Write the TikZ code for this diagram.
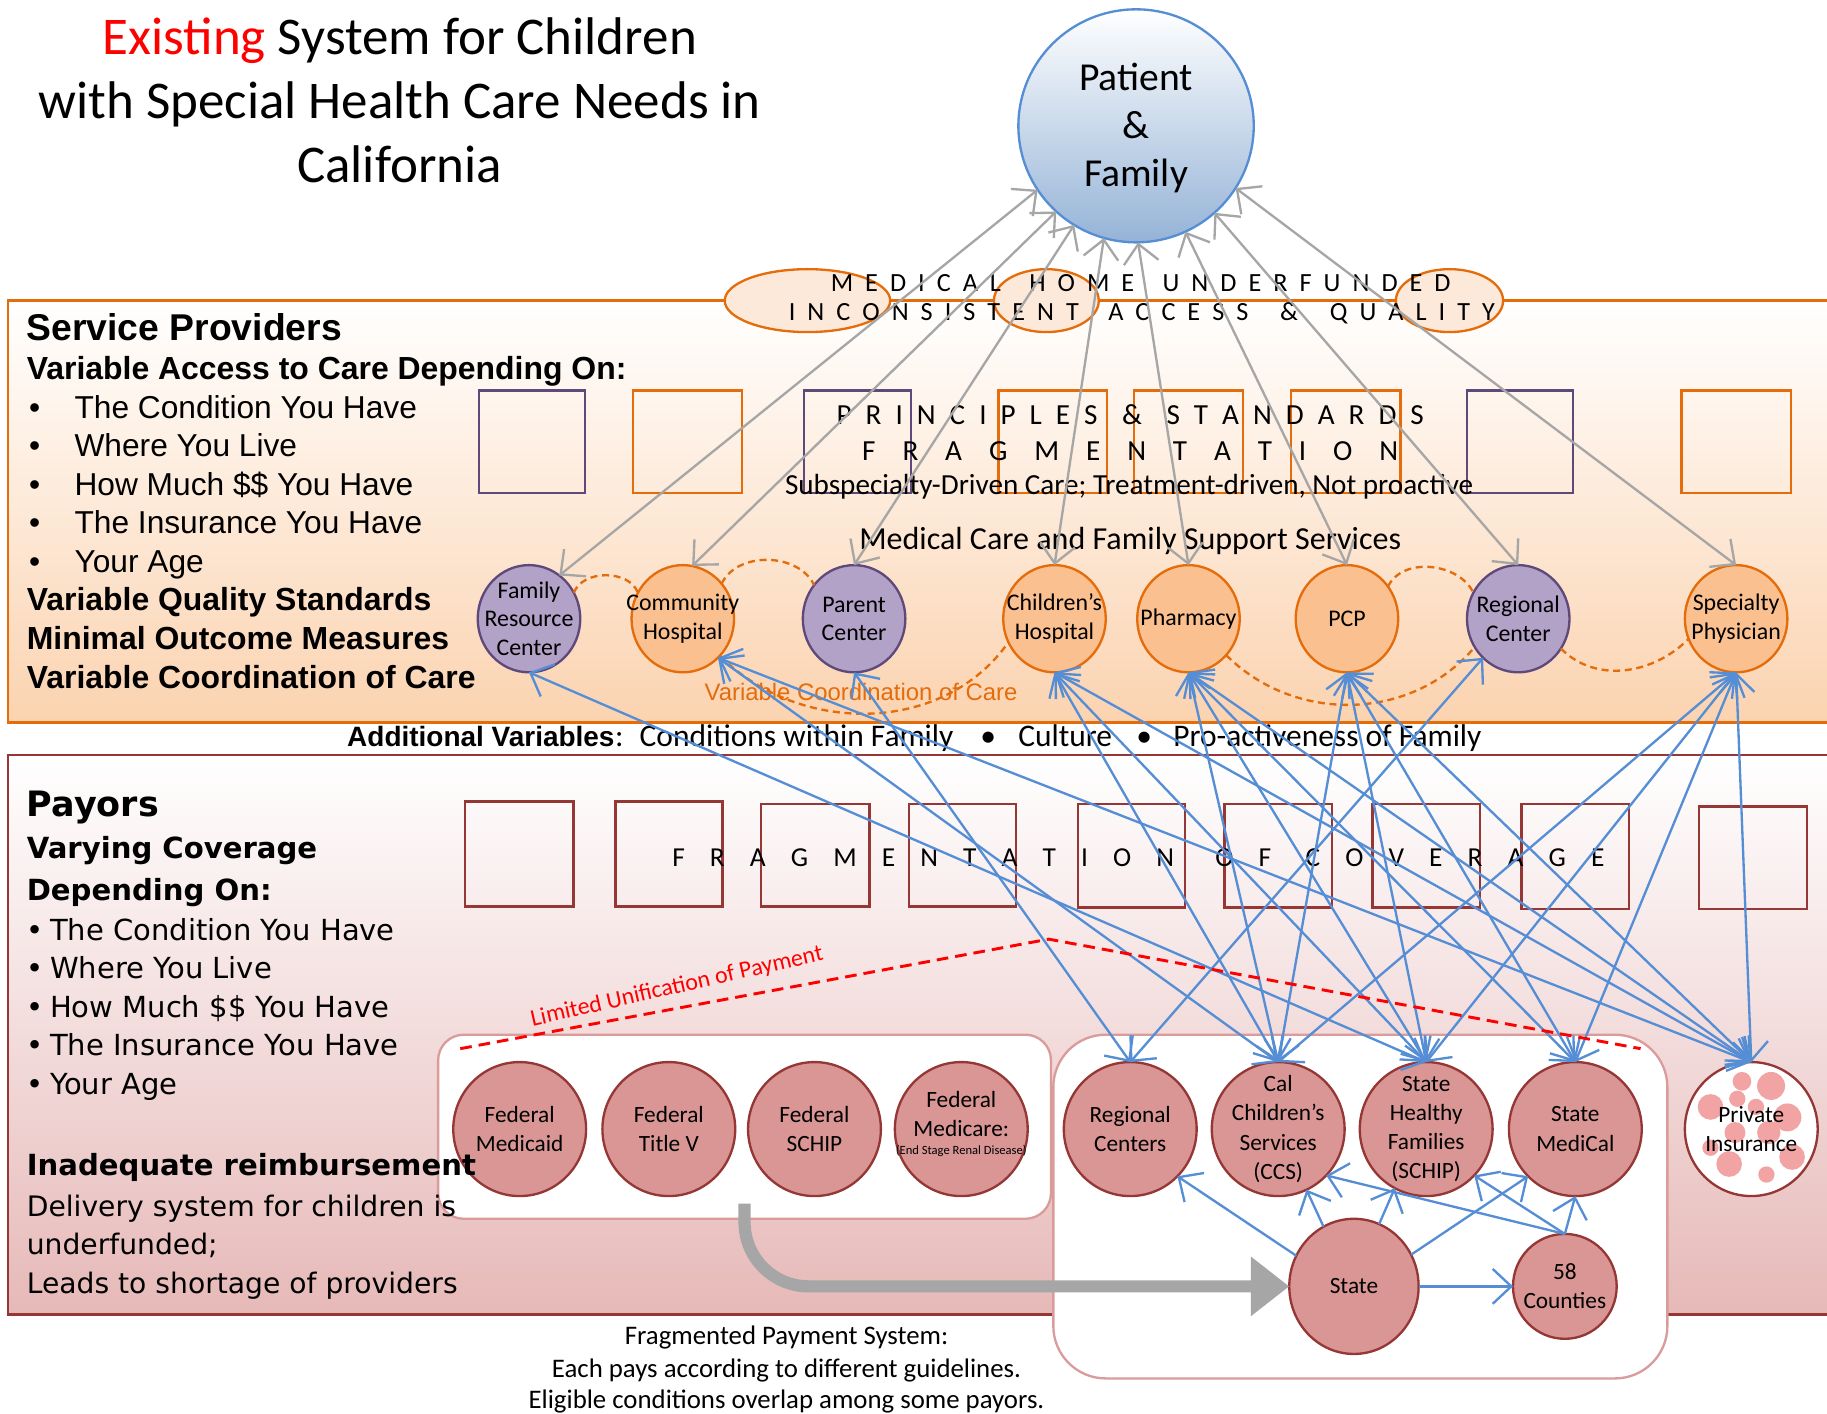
\documentclass[tikz,border=0pt]{standalone}
\usepackage{fontspec}
\setmainfont{Carlito}
\newfontfamily\arialf{Liberation Sans}
\newfontfamily\verdf{DejaVu Sans}
\usetikzlibrary{shapes.geometric,arrows.meta}

\definecolor{orgline}{HTML}{E46C0A}
\definecolor{orgfill}{HTML}{FAC090}
\definecolor{orgpale}{HTML}{FDE9D9}
\definecolor{peachb}{HTML}{FBD3B0}
\definecolor{purline}{HTML}{5F497A}
\definecolor{purfill}{HTML}{B3A2C7}
\definecolor{payline}{HTML}{953735}
\definecolor{payfill}{HTML}{D99694}
\definecolor{payb}{HTML}{E6B9B8}
\definecolor{paybox}{HTML}{DA9C9B}
\definecolor{dotpink}{HTML}{F2A4A4}
\definecolor{bluel}{HTML}{558ED5}
\definecolor{grayl}{HTML}{A6A6A6}
\definecolor{patb}{HTML}{95B3D7}
\definecolor{vcc}{HTML}{E46C0A}

\begin{document}
\begin{tikzpicture}[x=1pt,y=-1pt,
  every node/.style={inner sep=0pt,outer sep=0pt},
  prov/.style={ellipse,line width=2pt,minimum width=88pt,minimum height=92pt},
  provo/.style={prov,draw=orgline,fill=orgfill},
  provp/.style={prov,draw=purline,fill=purfill},
  ptext/.style={align=center,font=\fontsize{20.5}{24.5}\selectfont},
  pay/.style={ellipse,line width=2pt,draw=payline,fill=payfill,minimum width=114pt,minimum height=115pt},
  paytext/.style={align=center,font=\fontsize{20}{25}\selectfont},
  sbox/.style={line width=2pt},
  fbox/.style={draw=payline,line width=2.2pt},
  graylink/.style={draw=grayl,line width=2pt,{Straight Barb[length=16pt,width=30pt]}-{Straight Barb[length=16pt,width=30pt]}},
  bluelink/.style={draw=bluel,line width=2pt,{Straight Barb[length=16pt,width=30pt]}-{Straight Barb[length=16pt,width=30pt]}},
  blueto/.style={draw=bluel,line width=2pt,-{Straight Barb[length=16pt,width=30pt]}},
  coordarc/.style={draw=orgline,line width=2pt,dash pattern=on 6pt off 4pt},
  svc/.style={anchor=base west,font=\arialf\fontsize{27.2}{30}\selectfont},
  svcb/.style={anchor=base west,font=\arialf\bfseries\fontsize{27.4}{30}\selectfont},
  pyr/.style={anchor=base west,font=\verdf\fontsize{24.2}{28}\selectfont},
  pyrl/.style={anchor=base west,font=\verdf\fontsize{24.9}{28}\selectfont},
  pyrb/.style={anchor=base west,font=\verdf\bfseries\fontsize{25}{28}\selectfont},
  captxt/.style={anchor=base,font=\fontsize{23}{27}\selectfont},
]
\useasboundingbox (0,0) rectangle (1568,1213);
\clip (0,0) rectangle (1568,1213);

% ---------- background panels ----------
\shade[top color=white,bottom color=peachb] (7,258) rectangle (1600,620);
\draw[draw=orgline,line width=2.2pt] (7,258) rectangle (1600,620);
\shade[top color=white,bottom color=payb] (7,648) rectangle (1600,1128);
\draw[draw=payline,line width=2.2pt] (7,648) rectangle (1600,1128);

% ovals sitting on the top edge of the provider panel
\filldraw[draw=orgline,fill=orgpale,line width=2pt] (693,258) ellipse [x radius=71,y radius=27];
\filldraw[draw=orgline,fill=orgpale,line width=2pt] (898,258) ellipse [x radius=45,y radius=27];
\filldraw[draw=orgline,fill=orgpale,line width=2pt] (1244,258) ellipse [x radius=46,y radius=27];

% ---------- empty squares, provider row ----------
\draw[sbox,draw=purline] (411,335) rectangle (502,423);
\draw[sbox,draw=orgline] (543,335) rectangle (637,423);
\draw[sbox,draw=purline] (690,335) rectangle (782,423);
\draw[sbox,draw=orgline] (857,335) rectangle (950,423);
\draw[sbox,draw=orgline] (973,335) rectangle (1067,423);
\draw[sbox,draw=orgline] (1108,335) rectangle (1202,423);
\draw[sbox,draw=purline] (1259,335) rectangle (1350,423);
\draw[sbox,draw=orgline] (1443,335) rectangle (1537,423);

% ---------- empty squares, payor row ----------
\draw[fbox] (399,688) rectangle (492,778);
\draw[fbox] (528,688) rectangle (620,778);
\draw[fbox] (653,690) rectangle (746,778);
\draw[fbox] (780,690) rectangle (872,778);
\draw[fbox] (925,690) rectangle (1017,779);
\draw[fbox] (1051,690) rectangle (1143,779);
\draw[fbox] (1178,690) rectangle (1270,779);
\draw[fbox] (1306,690) rectangle (1398,780);
\draw[fbox] (1458,692) rectangle (1551,780);

% ---------- payor groups ----------
\draw[draw=paybox,fill=white,line width=2pt,rounded corners=22pt] (376,888) rectangle (902,1046);
\draw[draw=paybox,fill=white,line width=2pt,rounded corners=45pt] (904,888) rectangle (1431,1183);

% ---------- title ----------
\node[anchor=base,font=\fontsize{45.5}{55}\selectfont] (title1) at (343,47) {\textcolor{red}{Existing} System for Children};
\node[anchor=base,font=\fontsize{45.5}{55}\selectfont] (title2) at (343,102) {with Special Health Care Needs in};
\node[anchor=base,font=\fontsize{45.5}{55}\selectfont] (title3) at (343,157) {California};

% ---------- spaced banner texts ----------
\node[anchor=base,font=\fontsize{22.5}{25}\selectfont] (mh) at (979,250) {\makebox[532pt][s]{M E D I C A L\hspace{14pt} H O M E\hspace{14pt} U N D E R F U N D E D}};
\node[anchor=base,font=\fontsize{22.5}{25}\selectfont] (ia) at (980,275) {\makebox[606pt][s]{I N C O N S I S T E N T\hspace{15pt} A C C E S S\hspace{17pt} \&\hspace{17pt} Q U A L I T Y}};
\node[anchor=base,font=\fontsize{25}{28}\selectfont] (ps) at (970,364) {\makebox[504pt][s]{P R I N C I P L E S\hspace{9pt} \&\hspace{9pt} S T A N D A R D S}};
\node[anchor=base,font=\fontsize{25}{28}\selectfont] (fr) at (970,395) {\makebox[460pt][s]{F R A G M E N T A T I O N}};
\node[anchor=base,font=\fontsize{25}{28}\selectfont] (sd) at (969,424) {Subspecialty-Driven Care; Treatment-driven, Not proactive};
\node[anchor=base,font=\fontsize{27.5}{30}\selectfont] (mc) at (970,472) {Medical Care and Family Support Services};
\node[anchor=base,font=\fontsize{23.5}{26}\selectfont] (fc) at (977,744) {\makebox[800pt][s]{F R A G M E N T A T I O N\hspace{14pt} O F\hspace{8pt} C O V E R A G E}};

% ---------- service provider text ----------
\node[anchor=base west,font=\arialf\bfseries\fontsize{32}{36}\selectfont] (sp0) at (23,292) {Service Providers};
\node[svcb] (sp1) at (23,326) {Variable Access to Care Depending On:};
\node[svc] (spb1) at (25,359) {\textbullet};
\node[svc] (sp2) at (64,359) {The Condition You Have};
\node[svc] (spb2) at (25,392) {\textbullet};
\node[svc] (sp3) at (64,392) {Where You Live};
\node[svc] (spb3) at (25,425) {\textbullet};
\node[svc] (sp4) at (64,425) {How Much \$\$ You Have};
\node[svc] (spb4) at (25,458) {\textbullet};
\node[svc] (sp5) at (64,458) {The Insurance You Have};
\node[svc] (spb5) at (25,491) {\textbullet};
\node[svc] (sp6) at (64,491) {Your Age};
\node[svcb] (sp7) at (23,524) {Variable Quality Standards};
\node[svcb] (sp8) at (23,557) {Minimal Outcome Measures};
\node[svcb] (sp9) at (23,591) {Variable Coordination of Care};

% ---------- additional variables ----------
\node[anchor=base west,font=\arialf\bfseries\fontsize{24}{28}\selectfont] (av0) at (298,641) {Additional Variables};
\node[anchor=base west,font=\fontsize{27}{30}\selectfont] (av1) at (528,641) {:};
\node[anchor=base west,font=\fontsize{27}{30}\selectfont] (av2) at (549,641) {Conditions within Family};
\node[anchor=base,font=\fontsize{27}{30}\selectfont] (av3) at (848,641) {\textbullet};
\node[anchor=base west,font=\fontsize{27}{30}\selectfont] (av4) at (874,641) {Culture};
\node[anchor=base,font=\fontsize{27}{30}\selectfont] (av5) at (982,641) {\textbullet};
\node[anchor=base west,font=\fontsize{27}{30}\selectfont] (av6) at (1007,641) {Pro-activeness of Family};

% ---------- bottom caption ----------
\node[captxt] (cap1) at (675,1154) {Fragmented Payment System:};
\node[captxt] (cap2) at (675,1182) {Each pays according to different guidelines.};
\node[captxt] (cap3) at (675,1209) {Eligible conditions overlap among some payors.};

% ---------- patient ----------
\node[ellipse,draw=bluel,line width=2pt,top color=white,bottom color=patb,minimum width=202pt,minimum height=200pt] (pf) at (975,108) {};
\node[align=center,font=\fontsize{34}{41}\selectfont] (pft) at (975,110) {Patient\\\&\\Family};

% ---------- providers ----------
\node[provp] (frc) at (454,531) {};
\node[provo] (ch) at (586,531) {};
\node[provp] (par) at (733,531) {};
\node[provo] (chh) at (905,531) {};
\node[provo] (phar) at (1020,531) {};
\node[provo] (pcp) at (1156,531) {};
\node[provp] (regc) at (1303,531) {};
\node[provo] (spec) at (1490,531) {};
\node[ptext] (frct) at (frc) {Family\\Resource\\Center};
\node[ptext] (cht) at (ch) {Community\\Hospital};
\node[ptext] (part) at (par) {Parent\\Center};
\node[ptext] (chht) at (chh) {Children’s\\Hospital};
\node[ptext] (phart) at (phar) {Pharmacy};
\node[ptext] (pcpt) at (pcp) {PCP};
\node[ptext] (regct) at (regc) {Regional\\Center};
\node[ptext] (spect) at (spec) {Specialty\\Physician};

\node[anchor=center,font=\arialf\fontsize{20.5}{24}\selectfont,text=vcc] (vcoord) at (739,594) {Variable Coordination of Care};

% ---------- payors ----------
\node[pay] (fmcd) at (446,969) {};
\node[pay] (ftv) at (574,969) {};
\node[pay] (fsch) at (699,969) {};
\node[pay] (fmcr) at (825,969) {};
\node[pay] (rc) at (970,969) {};
\node[pay] (ccs) at (1097,969) {};
\node[pay] (shf) at (1224,969) {};
\node[pay] (medi) at (1352,969) {};
\node[pay,fill=white] (priv) at (1503,969) {};
\node[pay,minimum width=111pt,minimum height=116pt] (st) at (1162,1104) {};
\node[pay,minimum width=89pt,minimum height=90pt] (cty) at (1343,1104) {};
\foreach \dx/\dy/\r in {-8/-41/8,17/-37/12,-12/-26/7,-35/-19/11,4/-19/7,31/-10/12,-14/3/9,15/3/10,-35/16/7,35/24/11,-19/30/11,13/39/7}
  \fill[dotpink] (1503+\dx,969+\dy) circle (\r);

\node[paytext] (fmcdt) at (fmcd) {Federal\\Medicaid};
\node[paytext] (ftvt) at (ftv) {Federal\\Title V};
\node[paytext] (fscht) at (fsch) {Federal\\SCHIP};
\node[paytext] (fmcrt) at (825,956) {Federal\\Medicare:};
\node[font=\fontsize{10.8}{12}\selectfont] (fmcrs) at (825,988) {(End Stage Renal Disease)};
\node[paytext] (rct) at (rc) {Regional\\Centers};
\node[paytext] (ccst) at (ccs) {Cal\\Children’s\\Services\\(CCS)};
\node[paytext] (shft) at (shf) {State\\Healthy\\Families\\(SCHIP)};
\node[paytext] (medit) at (medi) {State\\MediCal};
\node[paytext] (privt) at (priv) {Private\\Insurance};
\node[paytext] (stt) at (st) {State};
\node[paytext] (ctyt) at (cty) {58\\Counties};

% ---------- payor text (set over the federal group) ----------
\node[anchor=base west,font=\verdf\bfseries\fontsize{30}{32}\selectfont] (py0) at (23,701) {Payors};
\node[pyrb] (py1) at (23,737) {Varying Coverage};
\node[pyrb] (py2) at (23,773) {Depending On:};
\node[pyrl] (pyb1) at (23,807) {\textbullet};
\node[pyrl] (py3) at (43,807) {The Condition You Have};
\node[pyrl] (pyb2) at (23,840) {\textbullet};
\node[pyrl] (py4) at (43,840) {Where You Live};
\node[pyrl] (pyb3) at (23,873) {\textbullet};
\node[pyrl] (py5) at (43,873) {How Much \$\$ You Have};
\node[pyrl] (pyb4) at (23,906) {\textbullet};
\node[pyrl] (py6) at (43,906) {The Insurance You Have};
\node[pyrl] (pyb5) at (23,939) {\textbullet};
\node[pyrl] (py7) at (43,939) {Your Age};
\node[pyrb] (py8) at (23,1009) {Inadequate reimbursement};
\node[pyr] (py9) at (23,1044) {Delivery system for children is};
\node[pyr] (py10) at (23,1077) {underfunded;};
\node[pyr] (py11) at (23,1110) {Leads to shortage of providers};

% ---------- federal-to-state flow ----------
\coordinate (fedout) at (639,1033);
\draw[draw=grayl,line width=10.5pt,rounded corners=55pt,-{Triangle[length=33pt,width=49pt]}] (fedout) |- (st.west);

% ---------- coordination arcs ----------
\draw[coordarc] (frc.30) to[out=70,in=110] (ch.150);
\draw[coordarc] (ch.42) to[out=65,in=115] (par.140);
\draw[coordarc] (ch.-45) to[out=-45,in=-125] (chh.207);
\draw[coordarc] (phar.-44) to[out=-45,in=-130] (regc.213);
\draw[coordarc] (pcp.38) to[out=65,in=115] (regc.150);
\draw[coordarc] (regc.-35) to[out=-45,in=-135] (spec.203);

% ---------- patient links ----------
\draw[graylink] (pf.213) -- (frc.55);
\draw[graylink] (pf.227) -- (ch.80);
\draw[graylink] (pf.238) -- (par.north);
\draw[graylink] (pf.254) -- (chh.north);
\draw[graylink] (pf.271) -- (phar.north);
\draw[graylink] (pf.295) -- (pcp.north);
\draw[graylink] (pf.312) -- (regc.north);
\draw[graylink] (pf.328) -- (spec.north);

% ---------- provider-payor links ----------
\draw[bluelink] (frc.south) -- (shf.north);
\draw[bluelink] (ch.-48) -- (ccs.north);
\draw[bluelink] (ch.-48) -- (priv.north);
\draw[bluelink] (par.south) -- (rc.north);
\draw[bluelink] (chh.south) -- (ccs.north);
\draw[bluelink] (chh.south) -- (shf.north);
\draw[bluelink] (chh.south) -- (priv.north);
\draw[bluelink] (phar.south) -- (ccs.north);
\draw[bluelink] (phar.south) -- (shf.north);
\draw[bluelink] (phar.south) -- (medi.north);
\draw[bluelink] (phar.south) -- (priv.north);
\draw[bluelink] (pcp.south) -- (ccs.north);
\draw[bluelink] (pcp.south) -- (shf.north);
\draw[bluelink] (pcp.south) -- (medi.north);
\draw[bluelink] (pcp.south) -- (priv.north);
\draw[bluelink] (regc.228) -- (rc.north);
\draw[bluelink] (spec.south) -- (ccs.north);
\draw[bluelink] (spec.south) -- (shf.north);
\draw[bluelink] (spec.south) -- (medi.north);
\draw[bluelink] (spec.south) -- (priv.north);

% ---------- state and county funding ----------
\draw[blueto] (st.152) -- (rc.-45);
\draw[blueto] (st.117) -- (ccs.-65);
\draw[blueto] (st.68) -- (shf.242);
\draw[blueto] (st.29) -- (medi.225);
\draw[blueto] (st.east) -- (cty.west);
\draw[blueto] (cty.north) -- (ccs.-44);
\draw[blueto] (cty.north) -- (shf.-44);
\draw[blueto] (cty.north) -- (medi.south);

% ---------- limited unification ----------
\coordinate (luS) at (395,900);
\coordinate (luP) at (900,806);
\coordinate (luE) at (1408,900);
\draw[draw=red,line width=2.5pt,dash pattern=on 10pt off 6pt] (luS) -- (luP) -- (luE);
\node[rotate=12.8,font=\fontsize{20.5}{24}\selectfont,text=red] (lu) at (581,847) {Limited Unification of Payment};
\end{tikzpicture}
\end{document}
